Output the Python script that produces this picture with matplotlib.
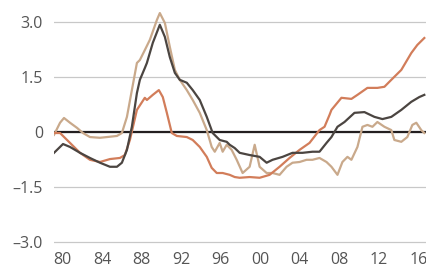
import matplotlib
matplotlib.use("Agg")
import matplotlib.pyplot as plt

plt.rcParams['font.family'] = ['Open Sans', 'DejaVu Sans']

# series (decimal years, values)
orange_years = [1979.14, 1979.75, 1980.76, 1981.77, 1982.78, 1983.79, 1984.80, 1985.81, 1986.31, 1986.82,
                1987.53, 1988.33, 1988.54, 1989.14, 1989.75, 1990.15, 1990.56, 1991.06, 1991.57, 1992.58,
                1993.18, 1993.89, 1994.60, 1995.10, 1995.61, 1996.21, 1996.92, 1997.43, 1997.93, 1998.94,
                1999.95, 2000.96, 2001.97, 2002.98, 2003.99, 2005.00, 2006.01, 2006.52, 2007.02, 2007.22,
                2008.23, 2009.24, 2009.85, 2010.86, 2011.87, 2012.58, 2013.28, 2014.29, 2015.30, 2015.91,
                2016.62]
orange_vals = [-0.03, -0.03, -0.30, -0.57, -0.76, -0.82, -0.74, -0.71, -0.63, -0.22,
               0.60, 0.93, 0.87, 1.01, 1.14, 0.95, 0.52, -0.03, -0.11, -0.14,
               -0.22, -0.41, -0.68, -0.98, -1.12, -1.12, -1.17, -1.23, -1.25, -1.23,
               -1.25, -1.17, -0.95, -0.71, -0.49, -0.30, 0.05, 0.14, 0.46, 0.60,
               0.93, 0.90, 1.01, 1.20, 1.20, 1.23, 1.42, 1.69, 2.15, 2.37,
               2.56]

dark_years = [1979.14, 1980.05, 1980.76, 1981.77, 1982.78, 1983.79, 1984.80, 1985.51, 1986.01, 1986.52,
              1987.02, 1987.53, 1987.83, 1988.33, 1988.54, 1989.14, 1989.85, 1990.36, 1990.86, 1991.37,
              1991.87, 1992.58, 1993.18, 1993.89, 1994.60, 1995.20, 1995.91, 1996.62, 1996.92, 1997.43,
              1997.93, 1998.94, 1999.95, 2000.66, 2001.26, 2002.27, 2003.28, 2004.29, 2005.30, 2006.01,
              2006.72, 2007.22, 2007.83, 2008.54, 2009.55, 2010.56, 2011.57, 2012.38, 2013.28, 2014.29,
              2015.30, 2016.11, 2016.62]
dark_vals = [-0.57, -0.33, -0.41, -0.57, -0.71, -0.84, -0.95, -0.95, -0.84, -0.49,
             0.14, 1.06, 1.42, 1.74, 1.88, 2.43, 2.92, 2.59, 2.04, 1.61,
             1.42, 1.34, 1.14, 0.87, 0.41, -0.03, -0.22, -0.27, -0.35, -0.44,
             -0.57, -0.63, -0.68, -0.84, -0.76, -0.68, -0.57, -0.57, -0.54, -0.54,
             -0.30, -0.14, 0.14, 0.27, 0.52, 0.54, 0.41, 0.35, 0.41, 0.60,
             0.82, 0.95, 1.01]

tan_years = [1979.14, 1979.75, 1980.15, 1980.76, 1981.47, 1982.07, 1982.78, 1983.79, 1984.50, 1985.51,
             1986.01, 1986.52, 1987.02, 1987.53, 1987.83, 1988.33, 1988.84, 1989.55, 1989.85, 1990.36,
             1990.86, 1991.37, 1991.87, 1992.58, 1993.18, 1993.89, 1994.60, 1995.10, 1995.41, 1995.91,
             1996.21, 1996.62, 1997.12, 1997.63, 1998.23, 1998.94, 1999.45, 1999.95, 2000.66, 2001.26,
             2001.97, 2002.68, 2003.28, 2003.99, 2004.70, 2005.30, 2006.01, 2006.72, 2007.22, 2007.83,
             2008.33, 2008.84, 2009.24, 2009.85, 2010.36, 2010.86, 2011.37, 2011.87, 2012.58, 2013.28,
             2013.59, 2014.29, 2014.90, 2015.41, 2015.81, 2016.31, 2016.62]
tan_vals = [-0.08, 0.25, 0.38, 0.25, 0.11, -0.03, -0.14, -0.16, -0.14, -0.11,
            -0.03, 0.41, 1.14, 1.88, 1.96, 2.23, 2.51, 3.05, 3.24, 2.97,
            2.32, 1.69, 1.42, 1.14, 0.87, 0.52, 0.05, -0.41, -0.54, -0.30,
            -0.54, -0.35, -0.49, -0.76, -1.12, -0.95, -0.35, -0.95, -1.12, -1.12,
            -1.17, -0.95, -0.84, -0.82, -0.76, -0.76, -0.71, -0.82, -0.95, -1.17,
            -0.82, -0.68, -0.76, -0.41, 0.14, 0.19, 0.14, 0.27, 0.14, 0.05,
            -0.22, -0.27, -0.14, 0.19, 0.25, 0.05, -0.03]

x_ticks = [1980, 1984, 1988, 1992, 1996, 2000, 2004, 2008, 2012, 2016]
x_labels = ['80', '84', '88', '92', '96', '00', '04', '08', '12', '16']
y_ticks = [-3.0, -1.5, 0, 1.5, 3.0]
y_labels = ['\u20133.0', '\u20131.5', '0', '1.5', '3.0']

fig = plt.figure(figsize=(4.26, 2.70), dpi=100)
ax = fig.add_axes([0.1268, 0.097, 0.8732, 0.890])

ax.plot(tan_years, tan_vals, color='#c9a98b', lw=1.6, zorder=3)
ax.plot(orange_years, orange_vals, color='#d27d5a', lw=1.6, zorder=4)
ax.plot(dark_years, dark_vals, color='#4b4541', lw=1.6, zorder=5)
ax.axhline(0, color='#231f20', lw=1.6, zorder=2)

ax.set_xlim(1979.14, 2016.79)
ax.set_ylim(-3.05, 3.5)
ax.set_xticks(x_ticks)
ax.set_xticklabels(x_labels)
ax.set_yticks(y_ticks)
ax.set_yticklabels(y_labels)
ax.tick_params(length=0, labelsize=11.5, labelcolor='#555555')
ax.tick_params(axis='x', pad=6)
ax.tick_params(axis='y', pad=8)
ax.grid(axis='y', color='#c8c8c8', lw=0.9)
ax.set_axisbelow(True)
for s in ax.spines.values():
    s.set_visible(False)

fig.savefig('out.png', dpi=100)
